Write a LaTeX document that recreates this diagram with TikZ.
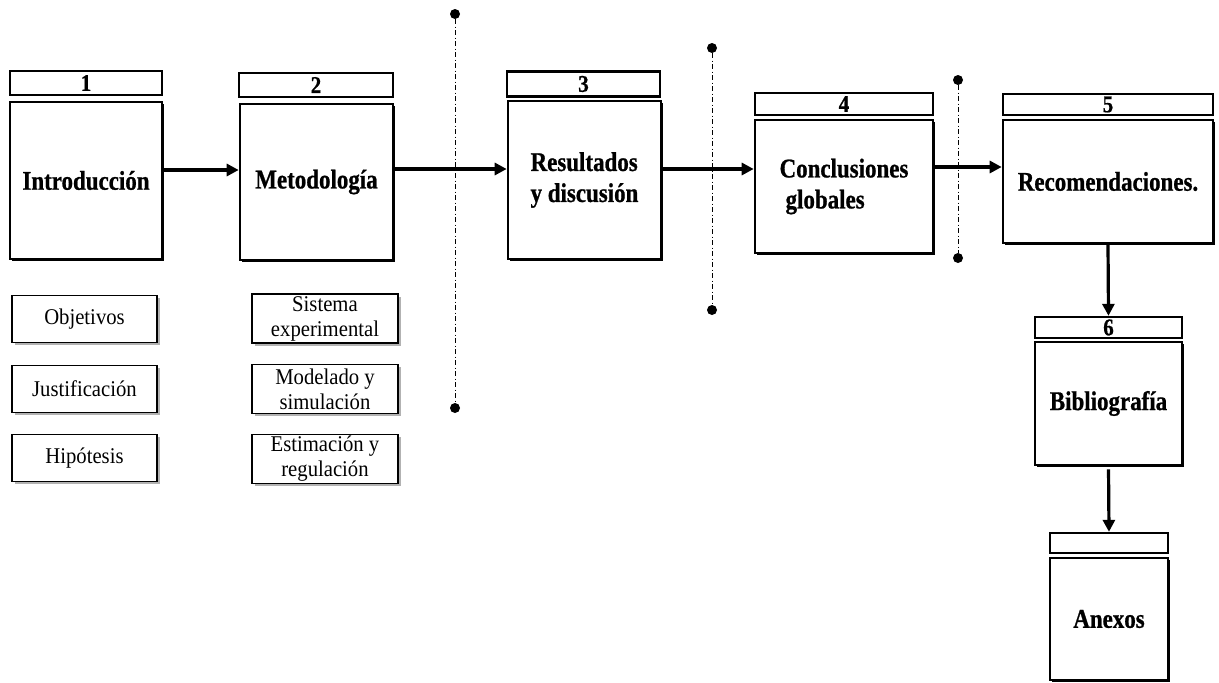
\documentclass[tikz,border=0pt]{standalone}
\usepackage{fontspec}
\setmainfont{Liberation Serif}[FakeStretch=0.92]
\newfontfamily\stagefont{Liberation Serif}[FakeStretch=0.85, FakeBold=0.8]
\newfontfamily\tabfont{Liberation Serif}[FakeStretch=0.88, FakeBold=0.6]
\usetikzlibrary{arrows.meta,shadows}
\begin{document}
\begin{tikzpicture}[x=1pt,y=-1pt,
  stage/.style={draw, line width=2.6pt, fill=white, inner sep=0pt, align=center,
    font=\stagefont\bfseries\fontsize{27}{31}\selectfont,
    drop shadow={shadow xshift=1.5pt, shadow yshift=-1.5pt, fill=black, opacity=1}},
  tab/.style={draw, line width=2.4pt, fill=white, inner sep=0pt,
    font=\tabfont\bfseries\fontsize{24}{24}\selectfont,
    drop shadow={shadow xshift=1.2pt, shadow yshift=-1.2pt, fill=black, opacity=1}},
  item/.style={draw, line width=1.3pt, fill=white, inner sep=0pt, align=center,
    font=\fontsize{22.5}{25}\selectfont,
    drop shadow={shadow xshift=2.5pt, shadow yshift=-2.5pt, fill=black, opacity=0.3}},
  flow/.style={line width=3.2pt, -{Triangle[length=12pt,width=12pt]}},
  sep/.style={line width=1pt, dash pattern=on 5pt off 2.5pt on 1pt off 2.5pt},
  dot/.style={circle, fill, inner sep=0pt, minimum size=10pt}
]
\useasboundingbox (0,0) rectangle (1219,683);

% vertical separators
\node[dot] (s1a) at (455,14) {};
\node[dot] (s1b) at (455,408) {};
\draw[sep] (s1a) -- (s1b);
\node[dot] (s2a) at (712,48) {};
\node[dot] (s2b) at (712,310) {};
\draw[sep] (s2a) -- (s2b);
\node[dot] (s3a) at (958,80) {};
\node[dot] (s3b) at (958,258) {};
\draw[sep] (s3a) -- (s3b);

% chapters
\node[tab, minimum width=152pt, minimum height=24pt] (h1) at (86,83) {1};
\node[stage, minimum width=152pt, minimum height=157pt] (m1) at (86,180.5) {Introducción};

\node[tab, minimum width=154pt, minimum height=24pt] (h2) at (316,85) {2};
\node[stage, minimum width=153pt, minimum height=156pt] (m2) at (316.5,182) {Metodología};

\node[tab, minimum width=153pt, minimum height=25pt] (h3) at (583.5,84) {3};
\node[stage, minimum width=153pt, minimum height=158pt, align=left] (m3) at (584.5,180) {Resultados\\y discusión};

\node[tab, minimum width=178pt, minimum height=22pt] (h4) at (844,104) {4};
\node[stage, minimum width=178pt, minimum height=133pt, align=left] (m4) at (844,186.5) {Conclusiones\\\hspace*{6pt}globales};

\node[tab, minimum width=210pt, minimum height=21pt] (h5) at (1108,104.5) {5};
\node[stage, minimum width=210pt, minimum height=123pt] (m5) at (1108,181.5) {Recomendaciones.};

\node[tab, minimum width=147pt, minimum height=21pt] (h6) at (1108.5,327.5) {6};
\node[stage, minimum width=147pt, minimum height=123pt] (m6) at (1108.5,403.5) {Bibliografía};

\node[tab, minimum width=118pt, minimum height=20pt] (h7) at (1109,543) {};
\node[stage, minimum width=118pt, minimum height=122pt] (m7) at (1109,619) {Anexos};

% flow between chapters
\coordinate (a12) at ([yshift=10.5pt]m1.east);
\draw[flow] (a12) -- (a12 -| m2.west);
\coordinate (a23) at ([yshift=13pt]m2.east);
\draw[flow] (a23) -- (a23 -| m3.west);
\coordinate (a34) at ([yshift=11pt]m3.east);
\draw[flow] (a34) -- (a34 -| m4.west);
\coordinate (a45) at ([yshift=19.5pt]m4.east);
\draw[flow] (a45) -- (a45 -| m5.west);
\draw[flow] (m5.south) -- (h6.north);
\draw[flow, shorten <=3pt] (m6.south) -- (h7.north);

% contents of the introduction
\node[item, minimum width=145pt, minimum height=47pt] (o1) at (84.5,319) {Objetivos};
\node[item, minimum width=145pt, minimum height=47pt] (o2) at (84.5,389) {Justificación};
\node[item, minimum width=145pt, minimum height=47pt] (o3) at (84.5,458) {Hipótesis};

% contents of the methodology
\node[item, minimum width=146pt, minimum height=49pt] (r1) at (325,318.5) {Sistema\\experimental};
\node[item, minimum width=146pt, minimum height=49pt] (r2) at (325,389) {Modelado y\\simulación};
\node[item, minimum width=146pt, minimum height=49pt] (r3) at (325,459) {Estimación y\\regulación};
\end{tikzpicture}
\end{document}
